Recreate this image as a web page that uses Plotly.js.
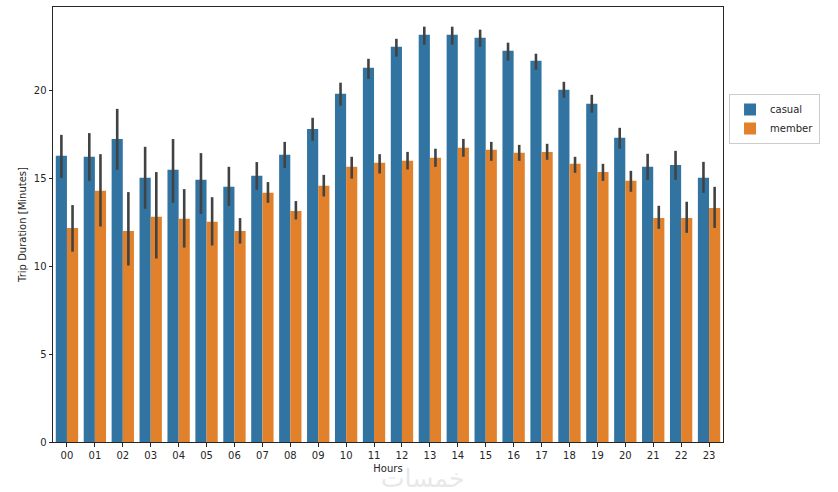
<!DOCTYPE html>
<html>
<head>
<meta charset="utf-8">
<script src="https://cdn.plot.ly/plotly-3.0.1.min.js"></script>
<style>html,body{margin:0;padding:0;background:#fff;}#chart{width:838px;height:492px;}</style>
</head>
<body>
<div id="chart"></div>
<script>
const hours = ["00","01","02","03","04","05","06","07","08","09","10","11","12","13","14","15","16","17","18","19","20","21","22","23"];

const casualMean = [16.30,16.24,17.26,15.04,15.50,14.93,14.53,15.16,16.35,17.83,19.83,21.31,22.51,23.19,23.19,23.02,22.28,21.71,20.06,19.26,17.32,15.67,15.78,15.04];
const casualHigh = [17.49,17.59,18.97,16.81,17.25,16.45,15.67,15.94,17.09,18.46,20.46,21.82,22.96,23.65,23.65,23.48,22.74,22.11,20.51,19.77,17.89,16.41,16.58,15.95];
const casualLow  = [15.04,14.87,15.50,13.28,13.62,12.99,13.45,14.36,15.61,17.15,19.15,20.68,21.94,22.62,22.62,22.51,21.71,21.20,19.60,18.75,16.70,14.93,14.93,14.19];

const memberMean = [12.19,14.30,12.02,12.82,12.71,12.54,12.02,14.19,13.16,14.59,15.67,15.90,16.01,16.18,16.75,16.64,16.47,16.52,15.84,15.38,14.87,12.76,12.76,13.33];
const memberHigh = [13.49,16.39,14.23,15.37,14.40,13.94,12.75,14.80,13.72,15.21,16.24,16.39,16.52,16.70,17.26,17.09,16.92,16.98,16.24,15.84,15.44,13.45,13.68,14.53];
const memberLow  = [10.84,12.27,10.05,10.45,11.07,11.19,11.30,13.62,12.67,13.98,15.00,15.29,15.52,15.67,16.24,16.01,16.01,16.07,15.33,14.87,14.25,12.14,11.91,12.19];

const seriesNames = ["casual","member"];

function errs(mean, hi, lo) {
  return {
    type: 'data', symmetric: false,
    array: hi.map((h, i) => h - mean[i]),
    arrayminus: mean.map((m, i) => m - lo[i]),
    color: '#424242', thickness: 2.6, width: 0
  };
}

const traces = [
  {type: 'bar', name: seriesNames[0], x: hours, y: casualMean, marker: {color: '#3274a1'},
   error_y: errs(casualMean, casualHigh, casualLow)},
  {type: 'bar', name: seriesNames[1], x: hours, y: memberMean, marker: {color: '#e1812c'},
   error_y: errs(memberMean, memberHigh, memberLow)}
];

const axisFont = {family: 'DejaVu Sans, sans-serif', size: 10, color: '#262626'};

const layout = {
  width: 838, height: 492,
  margin: {l: 53, r: 115, t: 7, b: 50},
  paper_bgcolor: '#fff', plot_bgcolor: '#fff',
  barmode: 'group', bargap: 0.2, bargroupgap: 0,
  font: axisFont,
  showlegend: true,
  legend: {
    x: 1.009, y: 0.80, xanchor: 'left', yanchor: 'top',
    bordercolor: '#cccccc', borderwidth: 1, bgcolor: '#fff',
    font: {family: 'DejaVu Sans, sans-serif', size: 10, color: '#262626'},
    tracegroupgap: 0, itemwidth: 30
  },
  xaxis: {
    type: 'category', range: [-0.5, 23.5],
    showline: true, mirror: true, linecolor: '#262626', linewidth: 1,
    ticks: 'outside', ticklen: 3.5, tickcolor: '#262626', tickwidth: 1,
    showgrid: false, zeroline: false,
    tickfont: axisFont,
    title: {text: 'Hours', font: axisFont, standoff: 5}
  },
  yaxis: {
    range: [0, 24.77],
    tickvals: [0, 5, 10, 15, 20],
    showline: true, mirror: true, linecolor: '#262626', linewidth: 1,
    ticks: 'outside', ticklen: 3.5, tickcolor: '#262626', tickwidth: 1,
    showgrid: false, zeroline: false,
    tickfont: axisFont,
    title: {text: 'Trip Duration [Minutes]', font: axisFont, standoff: 5}
  },
  annotations: [{
    text: 'خمسات', xref: 'paper', yref: 'paper', x: 0.552, y: -0.084,
    xanchor: 'center', yanchor: 'middle', showarrow: false,
    font: {family: 'DejaVu Sans, sans-serif', size: 25, color: '#e8e8e8'}
  }]
};

Plotly.newPlot('chart', traces, layout, {displayModeBar: false, staticPlot: true});
</script>
</body>
</html>
